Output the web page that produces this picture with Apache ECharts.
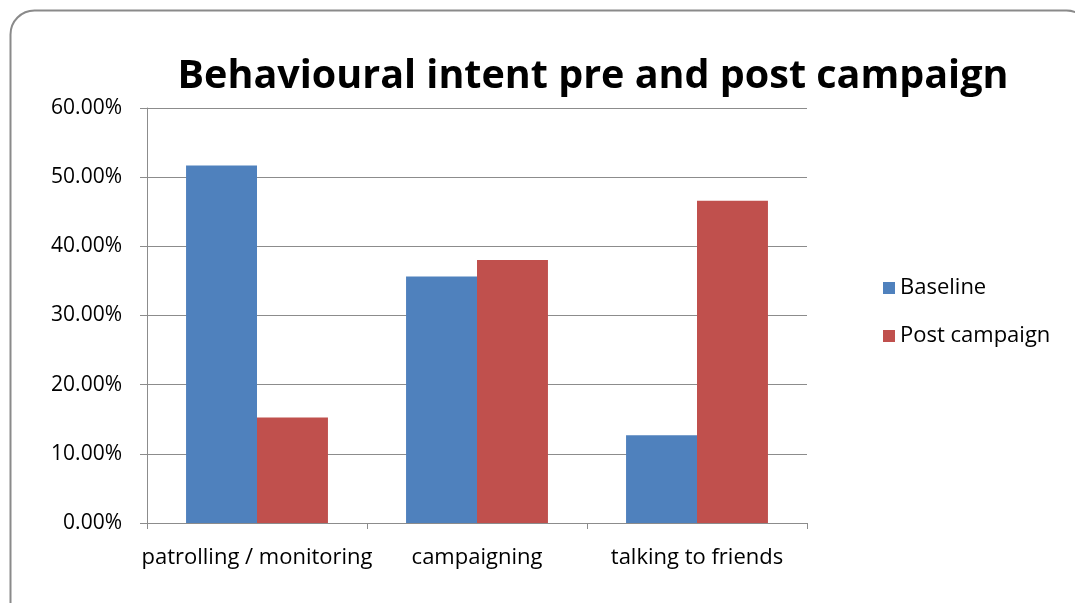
<!DOCTYPE html>
<html><head><meta charset="utf-8">
<script src="https://cdn.jsdelivr.net/npm/echarts@6/dist/echarts.min.js"></script>
<style>html,body{margin:0;padding:0;background:#fff}#c{width:1075px;height:603px}</style>
</head><body><div id="c"></div>
<script>
const categories = ['patrolling / monitoring', 'campaigning', 'talking to friends'];
const baseline = [0.517, 0.3565, 0.1267];
const postCampaign = [0.1527, 0.3802, 0.466];
const seriesNames = ['Baseline', 'Post campaign'];
const FONT = "'Open Sans', sans-serif";
const chart = echarts.init(document.getElementById('c'));
chart.setOption({
  animation: false,
  backgroundColor: '#fff',
  textStyle: { fontFamily: FONT },
  title: {
    text: 'Behavioural intent pre and post campaign',
    left: 588, top: 52, textAlign: 'center',
    textStyle: { fontFamily: FONT, fontWeight: 'bold', fontSize: 39.5, color: '#000' }
  },
  graphic: [{
    type: 'rect', shape: { x: 10.5, y: 10.5, width: 1080, height: 620, r: 24 },
    style: { fill: 'none', stroke: '#8a8a8a', lineWidth: 2 }, z: -1
  }],
  legend: {
    orient: 'vertical', left: 878, top: 272, itemWidth: 12, itemHeight: 12, itemGap: 26,
    icon: 'rect',
    textStyle: { fontFamily: FONT, fontSize: 22, color: '#000' },
    data: seriesNames
  },
  grid: { left: 147, right: 268, top: 108, bottom: 80, containLabel: false },
  xAxis: {
    type: 'category', data: categories,
    axisLine: { lineStyle: { color: '#8c8c8c', width: 1 } },
    axisTick: { show: true, alignWithLabel: false, length: 6, lineStyle: { color: '#8c8c8c' } },
    axisLabel: { fontFamily: FONT, fontSize: 22, color: '#000', margin: 24, interval: 0 }
  },
  yAxis: {
    type: 'value', min: 0, max: 0.6, interval: 0.1,
    axisLine: { show: true, lineStyle: { color: '#8c8c8c', width: 1 } },
    axisTick: { show: true, length: 7, lineStyle: { color: '#8c8c8c' } },
    splitLine: { lineStyle: { color: '#8c8c8c', width: 1 } },
    axisLabel: { fontFamily: FONT, fontSize: 21, color: '#000', margin: 25,
      formatter: v => (v * 100).toFixed(2) + '%' }
  },
  series: [
    { name: seriesNames[0], type: 'bar', data: baseline, barGap: '0%', barCategoryGap: '35.5%',
      itemStyle: { color: '#4F81BD' } },
    { name: seriesNames[1], type: 'bar', data: postCampaign, barGap: '0%', barCategoryGap: '35.5%',
      itemStyle: { color: '#C0504D' } }
  ]
});
</script></body></html>
